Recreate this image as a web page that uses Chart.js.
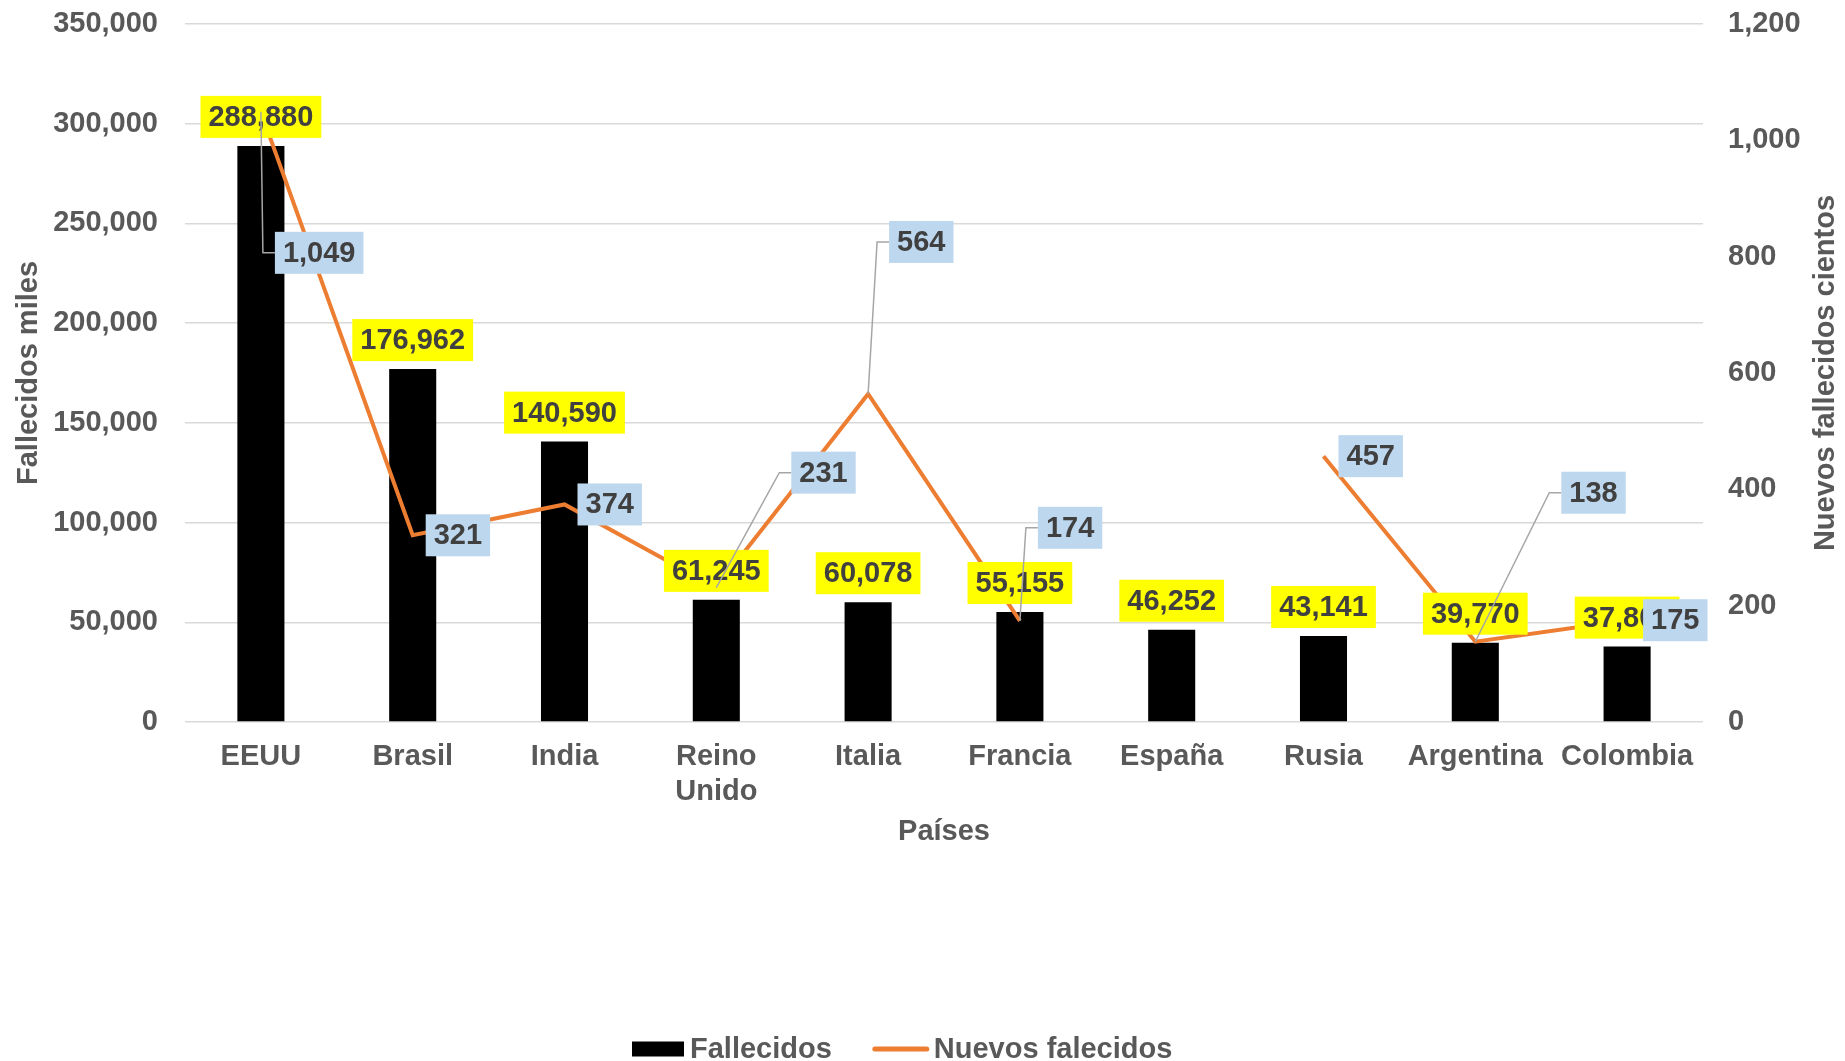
<!DOCTYPE html>
<html lang="es">
<head>
  <meta charset="UTF-8">
  <title>Fallecidos y nuevos fallecidos por país</title>
  <script src="https://cdn.jsdelivr.net/npm/chart.js"></script>
  <style>
    body {
      margin: 0;
      background: #ffffff;
    }
    #wrap {
      width: 1845px;
      height: 1061px;
    }
  </style>
</head>
<body>

<div id="wrap"><canvas id="myChart"></canvas></div>

<script>
  // Data
  const paises = ['EEUU', 'Brasil', 'India', 'Reino Unido', 'Italia', 'Francia', 'España', 'Rusia', 'Argentina', 'Colombia'];
  const fallecidos = [288880, 176962, 140590, 61245, 60078, 55155, 46252, 43141, 39770, 37808];
  const nuevosFallecidos = [1049, 321, 374, 231, 564, 174, null, 457, 138, 175]; // no value for España
  const ejeIzq = { min: 0, max: 350000, step: 50000 };
  const ejeDer = { min: 0, max: 1200, step: 200 };

  // where the blue labels sit, relative to their point (left edge, vertical middle)
  const nuevosLabelOffset = [[14, 141], [13, 0], [13, 0], [75, -115], [21, -152], [18, -93], null, [15, 0], [86, -149], [16, 0]];

  const FONT = '"Liberation Sans", Arial, sans-serif';
  const GREY = '#595959';
  const ORANGE = '#ED7D31';
  Chart.defaults.font.family = FONT;
  Chart.defaults.font.size = 29;
  Chart.defaults.font.weight = 'bold';
  Chart.defaults.color = GREY;

  const fmt = v => v.toLocaleString('en-US');

  function labelBox(ctx, text, left, midY, bg) {
    const w = ctx.measureText(text).width + 16;
    const h = 42;
    ctx.fillStyle = bg;
    ctx.fillRect(left, midY - h / 2, w, h);
    ctx.fillStyle = '#404040';
    ctx.textAlign = 'left';
    ctx.textBaseline = 'middle';
    ctx.fillText(text, left + 8, midY + 1);
  }

  // data labels: yellow for the bars, blue (with leader lines) for the line
  const dataLabels = {
    id: 'dataLabels',
    afterDatasetsDraw(chart) {
      const ctx = chart.ctx;
      ctx.save();
      ctx.font = 'bold 29px ' + FONT;
      const bars = chart.getDatasetMeta(1).data;
      bars.forEach((bar, i) => {
        const txt = fmt(fallecidos[i]);
        const w = ctx.measureText(txt).width + 16;
        labelBox(ctx, txt, bar.x - w / 2, bar.y - 8 - 21, '#FFFF00');
      });
      const pts = chart.getDatasetMeta(0).data;
      // leader lines first
      ctx.strokeStyle = '#A6A6A6';
      ctx.lineWidth = 1.5;
      pts.forEach((p, i) => {
        const off = nuevosLabelOffset[i];
        if (nuevosFallecidos[i] === null || !off || off[1] === 0) return;
        const bx = p.x + off[0], by = p.y + off[1];
        ctx.beginPath();
        ctx.moveTo(p.x, p.y);
        ctx.lineTo(bx - 12, by);
        ctx.lineTo(bx, by);
        ctx.stroke();
      });
      pts.forEach((p, i) => {
        const off = nuevosLabelOffset[i];
        if (nuevosFallecidos[i] === null || !off) return;
        labelBox(ctx, fmt(nuevosFallecidos[i]), p.x + off[0], p.y + off[1], '#BDD7EE');
      });
      ctx.restore();
    },
    afterDraw(chart) {
      const ctx = chart.ctx;
      const area = chart.chartArea;
      ctx.save();
      ctx.font = 'bold 29px ' + FONT;
      ctx.fillStyle = GREY;
      ctx.textBaseline = 'middle';
      // right axis title, reading bottom to top
      ctx.translate(chart.scales.y2.right - 19, (area.top + area.bottom) / 2);
      ctx.rotate(-Math.PI / 2);
      ctx.textAlign = 'center';
      ctx.fillText('Nuevos fallecidos cientos', 0, 0);
      ctx.restore();

      // legend
      ctx.save();
      ctx.font = 'bold 29px ' + FONT;
      ctx.textBaseline = 'middle';
      ctx.textAlign = 'left';
      const ly = 1049;
      let x = 632;
      ctx.fillStyle = '#000000';
      ctx.fillRect(x, ly - 7.5, 52, 15);
      x += 58;
      ctx.fillStyle = GREY;
      const t1 = chart.data.datasets[1].label;
      ctx.fillText(t1, x, ly + 1);
      x += ctx.measureText(t1).width + 41;
      ctx.strokeStyle = ORANGE;
      ctx.lineWidth = 5;
      ctx.lineCap = 'round';
      ctx.beginPath();
      ctx.moveTo(x + 2, ly);
      ctx.lineTo(x + 54, ly);
      ctx.stroke();
      x += 61;
      ctx.fillText(chart.data.datasets[0].label, x, ly + 1);
      ctx.restore();
    }
  };

  // fixed axis sizes, and no extra room above the plot for the tick padding
  const fixWidth = w => s => { s.width = w; s.paddingTop = 0; s.paddingBottom = 0; };

  const ctx = document.getElementById('myChart').getContext('2d');
  const myChart = new Chart(ctx, {
    type: 'bar',
    data: {
      labels: paises,
      datasets: [{
        type: 'line',
        label: 'Nuevos falecidos',
        data: nuevosFallecidos,
        yAxisID: 'y2',
        borderColor: ORANGE,
        backgroundColor: ORANGE,
        borderWidth: 4,
        pointRadius: 0,
        tension: 0,
        spanGaps: false,
        order: 0
      }, {
        label: 'Fallecidos',
        data: fallecidos,
        yAxisID: 'y',
        backgroundColor: '#000000',
        categoryPercentage: 1,
        barPercentage: 0.31,
        order: 1
      }]
    },
    options: {
      responsive: true,
      maintainAspectRatio: false,
      animation: false,
      layout: { padding: { top: 24, bottom: 207.6, left: 0, right: 0 } },
      plugins: {
        legend: { display: false },
        tooltip: { enabled: false }
      },
      scales: {
        x: {
          grid: { display: false, drawTicks: false },
          border: { display: false },
          ticks: {
            padding: 18,
            maxRotation: 0,
            autoSkip: false,
            callback: function(value) {
              const l = this.getLabelForValue(value);
              return l.includes(' ') ? l.split(' ') : l;
            }
          },
          title: { display: true, text: 'Países', padding: { top: 0, bottom: 4 } },
          afterFit: s => { s.height = 131.4; }
        },
        y: {
          position: 'left',
          min: ejeIzq.min,
          max: ejeIzq.max,
          ticks: { stepSize: ejeIzq.step, padding: 27 },
          grid: { color: '#D9D9D9', lineWidth: 1.5, drawTicks: false },
          border: { display: false },
          title: { display: true, text: 'Fallecidos miles', padding: { top: 11.6, bottom: 0 } },
          afterFit: fixWidth(185)
        },
        y2: {
          position: 'right',
          min: ejeDer.min,
          max: ejeDer.max,
          ticks: { stepSize: ejeDer.step, padding: 25 },
          grid: { display: false, drawTicks: false },
          border: { display: false },
          afterFit: fixWidth(142)
        }
      }
    },
    plugins: [dataLabels]
  });
</script>

</body>
</html>
